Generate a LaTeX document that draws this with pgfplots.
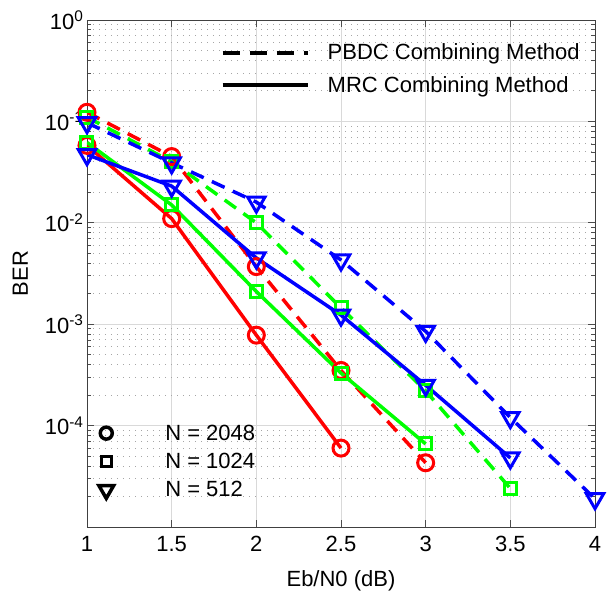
\documentclass[border=0pt]{standalone}
\usepackage{fontspec}
\setmainfont{Liberation Sans}
\usepackage{pgfplots}
\pgfplotsset{compat=1.18}
\definecolor{mred}{rgb}{1,0,0}
\definecolor{mgreen}{rgb}{0,1,0}
\definecolor{mblue}{rgb}{0,0,1}
\pgfplotsset{
  longleg/.style={legend image code/.code={\path[draw=none] (0pt,0pt) -- (103pt,0pt); \draw[##1] (0pt,0pt) -- (85pt,0pt);}},
  markleg/.style={legend image code/.code={\path[draw=none] (0pt,0pt) -- (68pt,0pt); \draw[##1] plot coordinates {(11pt,0pt)};}},
}
\begin{document}
\begin{tikzpicture}[font=\fontsize{22}{26}\selectfont]
\begin{axis}[name=ax, scale only axis, width=508pt, height=507pt,
  xmin=1, xmax=4, ymode=log, ymin=1e-5, ymax=1,
  xtick={1,1.5,2,2.5,3,3.5,4},
  xticklabels={1,1.5,2,2.5,3,3.5,4},
  ytick={1e-4,1e-3,1e-2,1e-1,1},
  yticklabels={10\textsuperscript{-4},10\textsuperscript{-3},10\textsuperscript{-2},10\textsuperscript{-1},10\textsuperscript{0}},
  minor ytick={2e-5,3e-5,4e-5,5e-5,6e-5,7e-5,8e-5,9e-5,
    2e-4,3e-4,4e-4,5e-4,6e-4,7e-4,8e-4,9e-4,
    2e-3,3e-3,4e-3,5e-3,6e-3,7e-3,8e-3,9e-3,
    2e-2,3e-2,4e-2,5e-2,6e-2,7e-2,8e-2,9e-2,
    2e-1,3e-1,4e-1,5e-1,6e-1,7e-1,8e-1,9e-1},
  grid=both, minor x tick num=0,
  major grid style={black!15, line width=0.8pt},
  minor grid style={black!35, line width=0.9pt, dash pattern=on 1pt off 5pt},
  tick align=inside, major tick length=7pt, minor tick length=4pt,
  tick style={black!70, line width=0.8pt},
  axis line style={black!75, line width=0.9pt},
  xlabel={Eb/N0 (dB)}, ylabel={BER},
  ticklabel style={font=\fontsize{22}{26}\selectfont},
  xticklabel style={yshift=-6pt},
  label style={font=\fontsize{22}{26}\selectfont},
  xlabel style={yshift=-12pt},
  ylabel style={yshift=10pt},
  /pgf/number format/assume math mode=true,
  legend style={at={(0.98,0.961)}, anchor=north east, draw=none, fill=none, row sep=11pt,
    font=\fontsize{22}{26}\selectfont},
  legend cell align=left,
]
\addlegendimage{black, line width=4pt, dash pattern=on 17pt off 10pt, longleg}
\addlegendentry{PBDC Combining Method}
\addlegendimage{black, line width=4pt, longleg}
\addlegendentry{MRC Combining Method}
% PBDC (dashed)
\addplot[forget plot, mred, line width=3.5pt, dash pattern=on 14pt off 9pt, mark=o, mark size=8pt, mark options={solid, line width=3pt}]
 coordinates {(1,0.123) (1.5,0.045) (2,0.0037) (2.5,3.5e-4) (3,4.3e-5)};
\addplot[forget plot, mgreen, line width=3.5pt, dash pattern=on 14pt off 9pt, mark=square, mark size=6pt, mark options={solid, line width=3pt}]
 coordinates {(1,0.11) (1.5,0.040) (2,0.010) (2.5,1.45e-3) (3,2.2e-4) (3.5,2.4e-5)};
\addplot[forget plot, mblue, line width=3.5pt, dash pattern=on 14pt off 9pt, mark=triangle, mark size=10pt, mark options={solid, line width=3pt, rotate=180}]
 coordinates {(1,0.097) (1.5,0.039) (2,0.016) (2.5,4.3e-3) (3,8.5e-4) (3.5,1.2e-4) (4,1.9e-5)};
% MRC (solid)
\addplot[forget plot, mred, line width=3.5pt, mark=o, mark size=8pt, mark options={solid, line width=3pt}]
 coordinates {(1,0.058) (1.5,0.011) (2,7.8e-4) (2.5,6.0e-5)};
\addplot[forget plot, mgreen, line width=3.5pt, mark=square, mark size=6pt, mark options={solid, line width=3pt}]
 coordinates {(1,0.062) (1.5,0.015) (2,0.0021) (2.5,3.3e-4) (3,6.6e-5)};
\addplot[forget plot, mblue, line width=3.5pt, mark=triangle, mark size=10pt, mark options={solid, line width=3pt, rotate=180}]
 coordinates {(1,0.047) (1.5,0.023) (2,4.5e-3) (2.5,1.23e-3) (3,2.5e-4) (3.5,4.8e-5)};
\end{axis}
\begin{axis}[at={(ax.south west)}, anchor=south west, scale only axis, width=508pt, height=507pt,
  hide axis, xmin=0, xmax=1, ymin=0, ymax=1,
  legend style={at={(0.01,0.21)}, anchor=north west, draw=none, fill=none, row sep=7.5pt,
    font=\fontsize{22}{26}\selectfont},
  legend cell align=left,
]
\addlegendimage{only marks, black, mark=o, mark size=6pt, mark options={line width=3.5pt}, markleg}
\addlegendentry{N = 2048}
\addlegendimage{only marks, black, mark=square, mark size=5pt, mark options={line width=3.5pt}, markleg}
\addlegendentry{N = 1024}
\addlegendimage{only marks, black, mark=triangle, mark size=8.5pt, mark options={line width=3.5pt, rotate=180}, markleg}
\addlegendentry{N = 512}
\end{axis}
\pgfresetboundingbox
\path[use as bounding box] ([xshift=-87pt,yshift=-68pt]ax.south west) rectangle ([xshift=12pt,yshift=20pt]ax.north east);
\end{tikzpicture}
\end{document}
